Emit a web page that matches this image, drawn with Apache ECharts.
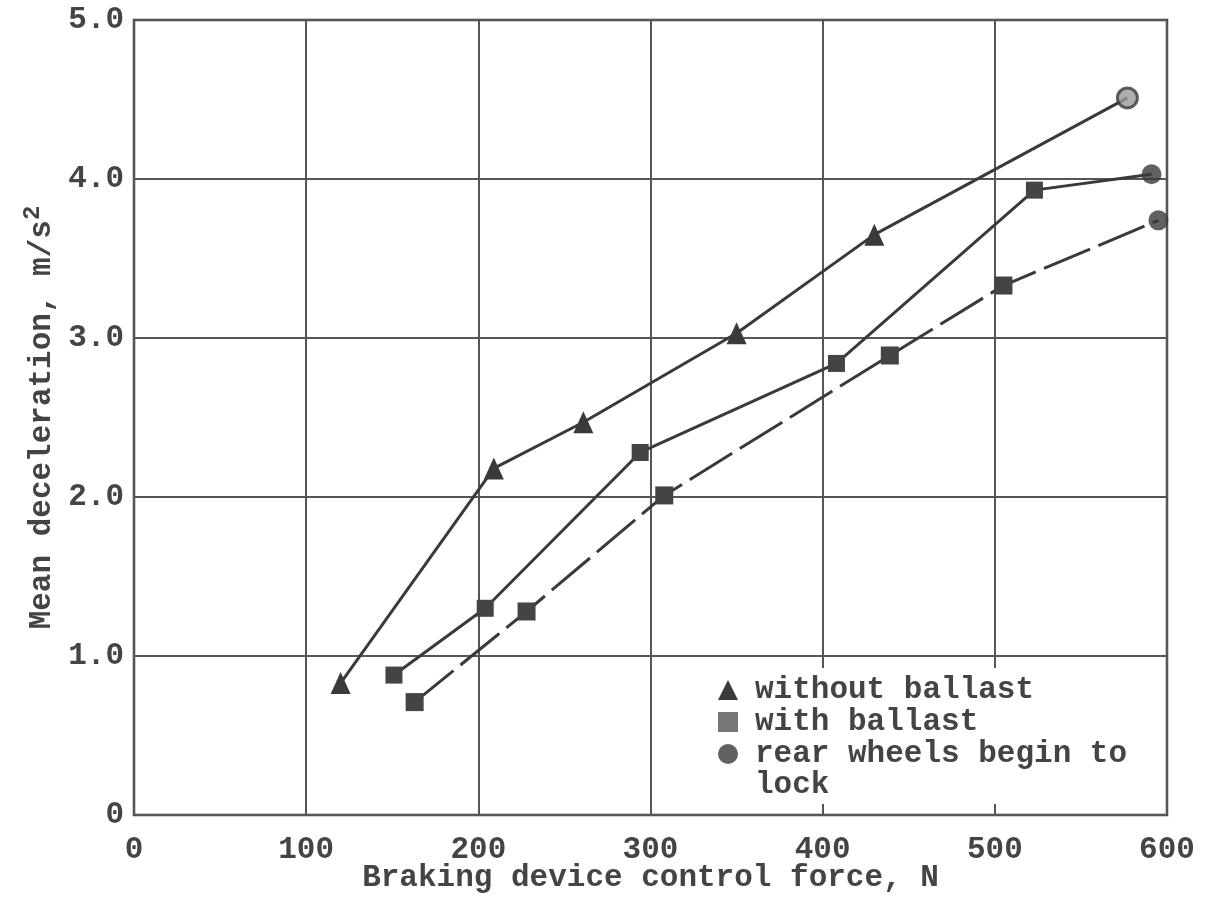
<!DOCTYPE html>
<html><head><meta charset="utf-8">
<script src="https://cdn.jsdelivr.net/npm/echarts@6/dist/echarts.min.js"></script>
<style>html,body{margin:0;padding:0;background:#fff}#c{width:1210px;height:898px}</style>
</head><body><div id="c"></div>
<script>
// ---- data ----
const xTicks = [0, 100, 200, 300, 400, 500, 600];
const yTickLabels = ['0', '1.0', '2.0', '3.0', '4.0', '5.0'];
const withoutBallastX = [120, 209, 261, 350, 430];
const withoutBallastY = [0.83, 2.18, 2.47, 3.03, 3.65];
const withBallastX = [151, 204, 294, 408, 523];
const withBallastY = [0.88, 1.30, 2.28, 2.84, 3.93];
const withBallast2X = [163, 228, 308, 439, 505];
const withBallast2Y = [0.71, 1.28, 2.01, 2.89, 3.33];
const lockX = [577, 591, 595];
const lockY = [4.51, 4.03, 3.74];
const seriesNames = ['without ballast', 'with ballast', 'rear wheels begin to lock'];
const legendLines = ['without ballast', 'with ballast', 'rear wheels begin to', 'lock'];

const FONT = '"Liberation Mono", "DejaVu Sans Mono", monospace';
const INK = '#444';
const W = 'bold';

function pairs(xs, ys) { return xs.map((x, i) => [x, ys[i]]); }
function withLock(xs, ys, k) {
  const d = pairs(xs, ys);
  d.push({ value: [lockX[k], lockY[k]], symbol: 'none' });
  return d;
}

const chart = echarts.init(document.getElementById('c'), null, { renderer: 'canvas' });
chart.setOption({
  backgroundColor: '#fff',
  animation: false,
  grid: { left: 134, right: 43, top: 20, bottom: 83, show: true, borderColor: '#3a3a3a', borderWidth: 2.5,
    backgroundColor: 'transparent', containLabel: false, outerBoundsMode: 'none' },
  xAxis: {
    type: 'value', min: 0, max: 600, interval: 100,
    name: 'Braking device control force, N', nameLocation: 'middle', nameGap: 48, nameMoveOverlap: false,
    nameTextStyle: { fontFamily: FONT, fontSize: 31, color: INK, fontWeight: W },
    axisLine: { show: false }, axisTick: { show: false },
    axisLabel: { fontFamily: FONT, fontSize: 31, color: INK, margin: 20, fontWeight: W,
      formatter: v => String(xTicks[Math.round(v / 100)]) },
    splitLine: { show: true, lineStyle: { color: '#555', width: 2 } }
  },
  yAxis: {
    type: 'value', min: 0, max: 5, interval: 1,
    name: 'Mean deceleration, m/s{sup|2}', nameLocation: 'middle', nameGap: 71, nameMoveOverlap: false,
    nameTextStyle: { fontFamily: FONT, fontSize: 31, color: INK, fontWeight: W,
      rich: { sup: { fontFamily: FONT, fontSize: 24, color: INK, fontWeight: W, padding: [0, 0, 18, 0] } } },
    axisLine: { show: false }, axisTick: { show: false },
    axisLabel: { fontFamily: FONT, fontSize: 31, color: INK, margin: 10, fontWeight: W,
      formatter: v => yTickLabels[Math.round(v)] },
    splitLine: { show: true, lineStyle: { color: '#555', width: 2 } }
  },
  legend: {
    orient: 'vertical', left: 708, top: 668,
    padding: [6, 14, 34, 10], itemGap: 0,
    itemWidth: 20, itemHeight: 20,
    backgroundColor: '#fff',
    textStyle: { fontFamily: FONT, fontSize: 31, color: INK, fontWeight: W, lineHeight: 32, padding: [0, 0, 0, 12] },
    formatter: n => n === seriesNames[2] ? legendLines[2] : n,
    data: [
      { name: seriesNames[0], icon: 'triangle', itemStyle: { color: '#3a3a3a' } },
      { name: seriesNames[1], icon: 'rect', itemStyle: { color: '#777' } },
      { name: seriesNames[2], icon: 'circle', itemStyle: { color: '#3a3a3a' } }
    ]
  },
  graphic: [{
    type: 'text', left: 755, top: 770, z: 100,
    style: { text: legendLines[3], font: W + ' 31px ' + FONT, fill: INK }
  }],
  series: [
    {
      name: seriesNames[0], type: 'line', data: withLock(withoutBallastX, withoutBallastY, 0),
      symbol: 'triangle', symbolSize: [20, 22], z: 3,
      lineStyle: { color: '#3a3a3a', width: 3 }, itemStyle: { color: '#3a3a3a' }
    },
    {
      name: seriesNames[1], type: 'line', data: withLock(withBallastX, withBallastY, 1),
      symbol: 'rect', symbolSize: 17, z: 3,
      lineStyle: { color: '#3a3a3a', width: 3 }, itemStyle: { color: '#444' }
    },
    {
      name: 'with ballast (dashed)', type: 'line', data: withLock(withBallast2X, withBallast2Y, 2),
      symbol: 'rect', symbolSize: 18, z: 3,
      lineStyle: { color: '#3a3a3a', width: 3, type: [50, 9] }, itemStyle: { color: '#444' }
    },
    {
      name: seriesNames[2], type: 'scatter', z: 4,
      data: pairs(lockX, lockY).map((p, i) => i === 0
        ? { value: p, itemStyle: { color: '#999', borderColor: '#3a3a3a', borderWidth: 3 } }
        : { value: p }),
      symbol: 'circle', symbolSize: 20,
      itemStyle: { color: '#3a3a3a' }
    }
  ]
});
</script>
</body></html>
